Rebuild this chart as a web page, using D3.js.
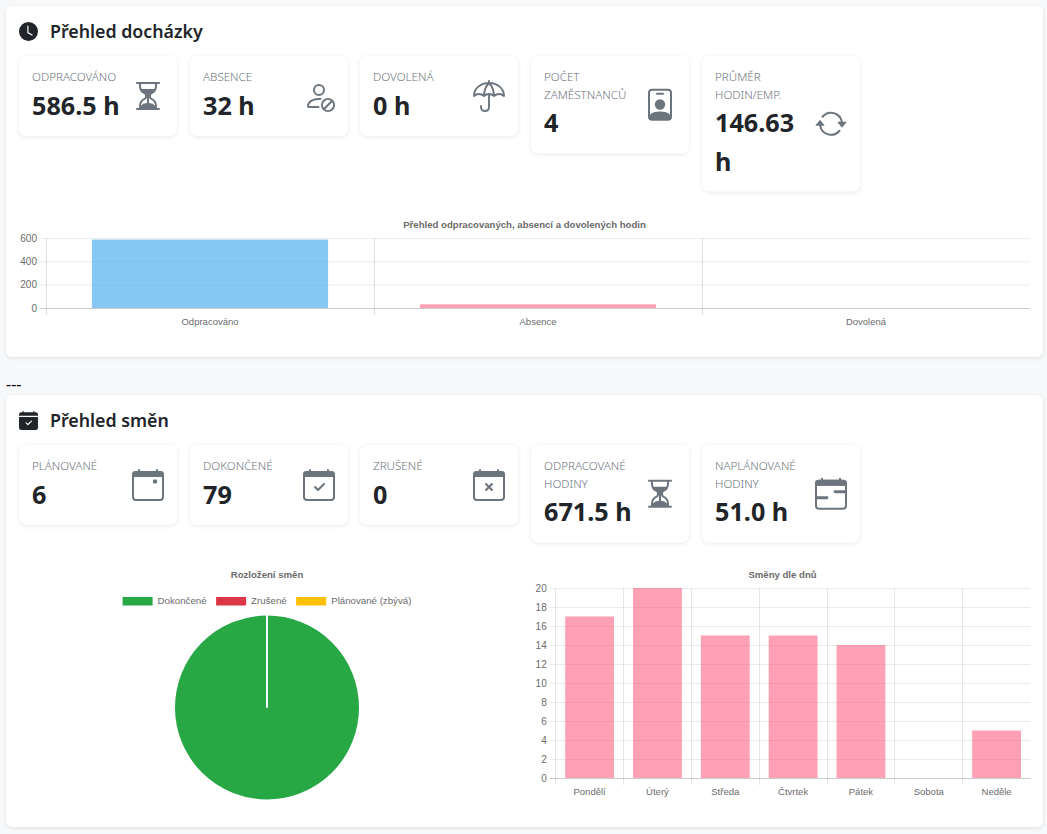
<!DOCTYPE html>
<html lang="cs">
<head>
<meta charset="utf-8">
<title>Přehled docházky a směn</title>
<script src="https://cdn.jsdelivr.net/npm/d3@7/dist/d3.min.js"></script>
<style>
  html, body { margin: 0; padding: 0; background: #f8f9fa; overflow: hidden; }
  svg { display: block; }
  .ui { font-family: "Noto Sans", "Open Sans", sans-serif; }
  .chart text { font-family: "Liberation Sans", Arial, sans-serif; fill: #6b6b6b; }
  .card { fill: #fff; filter: drop-shadow(0 1px 2px rgba(0,0,0,.1)); }
  .tile { fill: #fff; filter: drop-shadow(0 1px 2px rgba(0,0,0,.09)); }
</style>
</head>
<body>
<svg id="page" width="1047" height="834"></svg>
<script>
// Attendance section
const attendanceLabels = [["ODPRACOVÁNO"], ["ABSENCE"], ["DOVOLENÁ"], ["POČET", "ZAMĚSTNANCŮ"], ["PRŮMĚR", "HODIN/EMP."]];
const attendanceValues = [["586.5 h"], ["32 h"], ["0 h"], ["4"], ["146.63", "h"]];
const attendanceIcons = ["hourglass", "personSlash", "umbrella", "badge", "repeat"];
const hourCategories = ["Odpracováno", "Absence", "Dovolená"];
const hourValues = [586.5, 32, 0];
const hourTicks = [0, 200, 400, 600];

// Shift section
const shiftLabels = [["PLÁNOVANÉ"], ["DOKONČENÉ"], ["ZRUŠENÉ"], ["ODPRACOVANÉ", "HODINY"], ["NAPLÁNOVANÉ", "HODINY"]];
const shiftValues = [["6"], ["79"], ["0"], ["671.5 h"], ["51.0 h"]];
const shiftIcons = ["calendarEvent", "calendarCheck", "calendarX", "hourglass", "calendarRange"];
const pieCategories = ["Dokončené", "Zrušené", "Plánované (zbývá)"];
const pieValues = [79, 0, 0];
const pieColors = ["#28a745", "#dc3545", "#ffc107"];
const dayCategories = ["Pondělí", "Úterý", "Středa", "Čtvrtek", "Pátek", "Sobota", "Neděle"];
const dayValues = [17, 20, 15, 15, 14, 0, 5];
const dayTicks = [0, 2, 4, 6, 8, 10, 12, 14, 16, 18, 20];

// Icon outlines on a 16-unit grid
const calendarBase = "M3.5 0a.5.5 0 0 1 .5.5V1h8V.5a.5.5 0 0 1 1 0V1h1a2 2 0 0 1 2 2v11a2 2 0 0 1-2 2H2a2 2 0 0 1-2-2V3a2 2 0 0 1 2-2h1V.5a.5.5 0 0 1 .5-.5zM1 4v10a1 1 0 0 0 1 1h12a1 1 0 0 0 1-1V4H1z";
const calendarHeader = "M0 3a2 2 0 0 1 2-2h12a2 2 0 0 1 2 2v1H0z";
const iconShapes = {
  clockFill: { fill: "M16 8A8 8 0 1 1 0 8a8 8 0 0 1 16 0zM8 3.5a.5.5 0 0 0-1 0V9a.5.5 0 0 0 .252.434l3.5 2a.5.5 0 0 0 .496-.868L8 8.71V3.5z" },
  calendarFill: { fill: "M4 .5a.5.5 0 0 0-1 0V1H2a2 2 0 0 0-2 2v1h16V3a2 2 0 0 0-2-2h-1V.5a.5.5 0 0 0-1 0V1H4V.5zM16 14V5H0v9a2 2 0 0 0 2 2h12a2 2 0 0 0 2-2zm-5.146-5.146-3 3a.5.5 0 0 1-.708 0l-1.5-1.5a.5.5 0 0 1 .708-.708L7.5 10.793l2.646-2.647a.5.5 0 0 1 .708.708z" },
  hourglass: { fill: "M2.5 15a.5.5 0 1 1 0-1h1v-1a4.5 4.5 0 0 1 2.557-4.06c.29-.139.443-.377.443-.59v-.7c0-.213-.154-.451-.443-.59A4.5 4.5 0 0 1 3.5 3V2h-1a.5.5 0 0 1 0-1h11a.5.5 0 0 1 0 1h-1v1a4.5 4.5 0 0 1-2.557 4.06c-.29.139-.443.377-.443.59v.7c0 .213.154.451.443.59A4.5 4.5 0 0 1 12.5 13v1h1a.5.5 0 0 1 0 1h-11zm2-13v1c0 .537.12 1.045.337 1.5h6.326c.216-.455.337-.963.337-1.5V2h-7zm3 6.35c0 .701-.478 1.236-1.011 1.492A3.5 3.5 0 0 0 4.5 13s.866-1.299 3-1.48V8.35zm1 0v3.17c2.134.181 3 1.48 3 1.48a3.5 3.5 0 0 0-1.989-3.158C8.978 9.586 8.5 9.052 8.5 8.351z" },
  personSlash: { fill: "M13.879 10.414a2.501 2.501 0 0 0-3.465 3.465l3.465-3.465Zm.707.707-3.465 3.465a2.501 2.501 0 0 0 3.465-3.465Zm-4.56-1.096a3.5 3.5 0 1 1 4.949 4.95 3.5 3.5 0 0 1-4.95-4.95ZM11 5a3 3 0 1 1-6 0 3 3 0 0 1 6 0ZM8 7a2 2 0 1 0 0-4 2 2 0 0 0 0 4Zm.256 7a4.474 4.474 0 0 1-.229-1.004H3c.001-.246.154-.986.832-1.664C4.484 10.68 5.711 10 8 10c.26 0 .507.009.74.025.226-.341.496-.65.804-.918C9.077 9.038 8.564 9 8 9c-5 0-6 3-6 4s1 1 1 1h5.256Z" },
  umbrella: { stroke: "M.5 8C.5 4.2 3.8 1.5 8 1.5s7.5 2.7 7.5 6.5c-1-.9-1.7-1-2.5-1s-1.7.3-2.5 1c-.8-.7-1.6-1-2.5-1s-1.7.3-2.5 1c-.8-.7-1.6-1-2.5-1s-1.5.1-2.5 1zM8 1.5C6 3.5 5.5 5.5 5.5 8M8 1.5c2 2 2.5 4 2.5 6.5M8 .5v1M8 7v6.5c0 1.3-.8 2-2 2s-2-.7-2-2V13" },
  badge: { fill: "M4 0h8a2 2 0 0 1 2 2v12a2 2 0 0 1-2 2H4a2 2 0 0 1-2-2V2a2 2 0 0 1 2-2zm0 1a1 1 0 0 0-1 1v12a1 1 0 0 0 1 1h8a1 1 0 0 0 1-1V2a1 1 0 0 0-1-1H4zM6.5 2h3a.5.5 0 0 1 0 1h-3a.5.5 0 0 1 0-1zM8 5.3a2.6 2.6 0 1 1 0 5.2 2.6 2.6 0 0 1 0-5.2zM3 13c1-1 2.6-1.6 5-1.6s4 .6 5 1.6v1a1 1 0 0 1-1 1H4a1 1 0 0 1-1-1z" },
  repeat: { fill: "M11.534 7h3.932a.25.25 0 0 1 .192.41l-1.966 2.36a.25.25 0 0 1-.384 0l-1.966-2.36a.25.25 0 0 1 .192-.41zm-11 2h3.932a.25.25 0 0 0 .192-.41L2.692 6.23a.25.25 0 0 0-.384 0L.342 8.59A.25.25 0 0 0 .534 9zM8 3c-1.552 0-2.94.707-3.857 1.818a.5.5 0 1 1-.771-.636A6.002 6.002 0 0 1 13.917 7H12.9A5.002 5.002 0 0 0 8 3zM3.1 9a5.002 5.002 0 0 0 8.757 2.182.5.5 0 1 1 .771.636A6.002 6.002 0 0 1 2.083 9H3.1z" },
  calendarEvent: { fill: calendarBase, extra: calendarHeader + "M11 5.2h1a.5.5 0 0 1 .5.5v1a.5.5 0 0 1-.5.5h-1a.5.5 0 0 1-.5-.5v-1a.5.5 0 0 1 .5-.5z" },
  calendarCheck: { fill: calendarBase, extra: calendarHeader + "M10.854 7.146a.5.5 0 0 1 0 .708l-3 3a.5.5 0 0 1-.708 0l-1.5-1.5a.5.5 0 1 1 .708-.708L7.5 9.793l2.646-2.647a.5.5 0 0 1 .708 0z" },
  calendarX: { fill: calendarBase, extra: calendarHeader + "M6.146 7.146a.5.5 0 0 1 .708 0L8 8.293l1.146-1.147a.5.5 0 1 1 .708.708L8.707 9l1.147 1.146a.5.5 0 0 1-.708.708L8 9.707l-1.146 1.147a.5.5 0 0 1-.708-.708L7.293 9 6.146 7.854a.5.5 0 0 1 0-.708z" },
  calendarRange: { fill: calendarBase, extra: calendarHeader + "M10 6.3h5.5v1.4H10a.7.7 0 0 1 0-1.4zM.5 9.3H6a.7.7 0 0 1 0 1.4H.5z" }
};

const svg = d3.select("#page");

function drawIcon(parent, name, x, y, size, color) {
  const shape = iconShapes[name];
  const g = parent.append("g").attr("transform", `translate(${x},${y}) scale(${size / 16})`);
  if (shape.fill) g.append("path").attr("d", shape.fill).attr("fill", color).attr("fill-rule", "evenodd");
  if (shape.extra) g.append("path").attr("d", shape.extra).attr("fill", color);
  if (shape.stroke) g.append("path").attr("d", shape.stroke).attr("fill", "none").attr("stroke", color).attr("stroke-width", 0.95).attr("stroke-linecap", "round").attr("stroke-linejoin", "round");
}

function drawSection(top, height, iconName, heading) {
  const g = svg.append("g").attr("class", "ui");
  g.append("rect").attr("class", "card").attr("x", 6).attr("y", top).attr("width", 1037).attr("height", height).attr("rx", 6);
  drawIcon(g, iconName, 19, top + 16, 19, "#212529");
  g.append("text").attr("x", 50).attr("y", top + 31.5).attr("font-size", 17.8).attr("font-weight", 600).attr("fill", "#212529").text(heading);
}

function drawTiles(top, labels, values, icons) {
  const left = d3.scalePoint().domain(d3.range(labels.length)).range([19, 702]);
  labels.forEach((lines, i) => {
    const x = Math.round(left(i) - 0.01);
    const vals = values[i];
    const labelDepth = lines.length === 2 ? 17.5 : 0;
    const valueDepth = (vals.length - 1) * 38;
    const h = 80 + labelDepth + valueDepth;
    const g = svg.append("g").attr("class", "ui");
    g.append("rect").attr("class", "tile").attr("x", x).attr("y", top).attr("width", 158).attr("height", h).attr("rx", 7);
    lines.forEach((t, k) => g.append("text")
      .attr("x", x + 13).attr("y", top + 25 + k * 17.5)
      .attr("font-size", 11.6).attr("font-weight", 300).attr("fill", "#6c757d").text(t));
    vals.forEach((t, k) => g.append("text")
      .attr("x", x + 13).attr("y", top + 59 + labelDepth * 0.95 + k * 39)
      .attr("font-size", 25.2).attr("font-weight", 700).attr("fill", "#212529").text(t));
    drawIcon(g, icons[i], x + 113, top + h / 2 - 16, 32, "#6c757d");
  });
}

// Bar chart with a grid, one vertical line per band edge and axes from d3-axis
function drawBars(opts) {
  const { left, right, top, bottom, categories, values, ticks, max, color, title, titleY, titleX, vGrid } = opts;
  const g = svg.append("g").attr("class", "chart");
  const x = d3.scaleBand().domain(categories).range([left, right]);
  const y = d3.scaleLinear().domain([0, max]).range([bottom, top]);

  g.append("text").attr("x", titleX).attr("y", titleY).attr("text-anchor", "middle")
    .attr("font-size", 9.6).attr("font-weight", 700).text(title);

  // horizontal grid with the tick stub to the left
  const yAxis = d3.axisLeft(y).tickValues(ticks).tickSize(right - left + 6).tickPadding(3);
  const yG = g.append("g").attr("transform", `translate(${right},0)`).call(yAxis);
  yG.select(".domain").remove();
  yG.selectAll(".tick line").attr("stroke", d => d === 0 ? "rgba(0,0,0,.2)" : "rgba(0,0,0,.08)");
  yG.selectAll(".tick text").attr("font-size", 10).attr("font-family", null);

  // vertical grid on the left edge of each band
  g.append("g").selectAll("line").data(categories).join("line")
    .attr("x1", d => Math.floor(x(d)) + .5).attr("x2", d => Math.floor(x(d)) + .5)
    .attr("y1", top).attr("y2", bottom + 7)
    .attr("stroke", vGrid);

  const xAxis = d3.axisBottom(x).tickSize(0).tickPadding(10);
  const xG = g.append("g").attr("transform", `translate(0,${bottom})`).call(xAxis);
  xG.select(".domain").remove();
  xG.selectAll(".tick text").attr("font-size", 9.5).attr("font-family", null);

  const barWidth = x.bandwidth() * 0.72;
  g.append("g").selectAll("rect").data(values.map((v, i) => ({ v, c: categories[i] }))).join("rect")
    .attr("x", d => x(d.c) + (x.bandwidth() - barWidth) / 2)
    .attr("width", barWidth)
    .attr("y", d => y(d.v))
    .attr("height", d => y(0) - y(d.v))
    .attr("fill", (d, i) => Array.isArray(color) ? color[i] : color);
}

// Separator between the two cards
svg.append("text").attr("x", 6).attr("y", 390).attr("font-size", 16).attr("font-family", "Noto Sans").attr("fill", "#000").text("---");

// Attendance card
drawSection(6, 351, "clockFill", "Přehled docházky");
drawTiles(56, attendanceLabels, attendanceValues, attendanceIcons);
drawBars({
  left: 46, right: 1030, top: 238, bottom: 308,
  categories: hourCategories, values: hourValues, ticks: hourTicks, max: 600,
  color: ["rgba(54,162,235,.6)", "rgba(255,99,132,.6)", "rgba(75,192,192,.6)"],
  title: "Přehled odpracovaných, absencí a dovolených hodin", titleX: 524.5, titleY: 228,
  vGrid: "rgba(0,0,0,.12)"
});

// Shift card
drawSection(395, 432, "calendarFill", "Přehled směn");
drawTiles(445, shiftLabels, shiftValues, shiftIcons);
drawBars({
  left: 555.7, right: 1030.5, top: 588, bottom: 778,
  categories: dayCategories, values: dayValues, ticks: dayTicks, max: 20,
  color: "rgba(255,99,132,.6)",
  title: "Směny dle dnů", titleX: 782.5, titleY: 578,
  vGrid: "rgba(0,0,0,.09)"
});

// Pie of shift states with a legend row above it
const pieGroup = svg.append("g").attr("class", "chart");
pieGroup.append("text").attr("x", 267).attr("y", 578).attr("text-anchor", "middle")
  .attr("font-size", 9.6).attr("font-weight", 700).text("Rozložení směn");

const legend = pieGroup.append("g");
let cursor = 0;
pieCategories.forEach((name, i) => {
  legend.append("rect").attr("x", cursor).attr("y", 597).attr("width", 30).attr("height", 8.5).attr("fill", pieColors[i]);
  const label = legend.append("text").attr("x", cursor + 35).attr("y", 604).attr("font-size", 9.7).text(name);
  cursor += 35 + label.node().getComputedTextLength() + 9.5;
});
legend.attr("transform", `translate(${267 - (cursor - 9.5) / 2},0)`);

const pieLayout = d3.pie().sort(null)(pieValues);
const arc = d3.arc().innerRadius(0).outerRadius(93);
pieGroup.append("g").attr("transform", "translate(267,707.5)")
  .selectAll("path").data(pieLayout).join("path")
  .attr("d", arc)
  .attr("fill", (d, i) => pieColors[i])
  .attr("stroke", "#fff")
  .attr("stroke-width", 2);
</script>
</body>
</html>
